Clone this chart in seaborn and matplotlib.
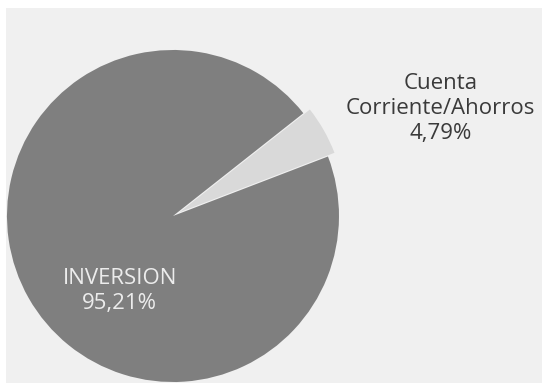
import matplotlib
matplotlib.use("Agg")
import matplotlib.pyplot as plt
from matplotlib.patches import Rectangle
import seaborn as sns

# Portfolio split
categories = ["Cuenta\nCorriente/Ahorros", "INVERSION"]
shares = [4.79, 95.21]
share_labels = ["4,79%", "95,21%"]
slice_colors = ["#d9d9d9", "#7f7f7f"]

sns.set_theme(style="white")
plt.rcParams["font.family"] = ["Open Sans", "DejaVu Sans"]

fig = plt.figure(figsize=(5.42, 3.85), dpi=100)
fig.patch.set_facecolor("white")
fig.add_artist(Rectangle((6 / 542, 2 / 385), 536 / 542, 375 / 385,
                         transform=fig.transFigure, facecolor="#f0f0f0",
                         edgecolor="none", zorder=0))

ax = fig.add_axes([0, 0, 1, 1])
ax.set_facecolor("none")
ax.pie(shares, colors=slice_colors, startangle=21, counterclock=True,
       explode=[0.045, 0.0], radius=1.0,
       wedgeprops=dict(edgecolor="none", linewidth=0))
ax.set_aspect("auto")
ax.set_xlim(-1.042, 2.223)
ax.set_ylim(-1.018, 1.301)
ax.axis("off")

ax.text(1.61, 0.65, f"{categories[0]}\n{share_labels[0]}", ha="center",
        va="center", fontsize=16, color="#3a3a3a", linespacing=1.25)
ax.text(-0.32, -0.45, f"{categories[1]}\n{share_labels[1]}", ha="center",
        va="center", fontsize=16, color="#ececec", linespacing=1.25)

fig.savefig("out.png", dpi=100, facecolor=fig.get_facecolor())
